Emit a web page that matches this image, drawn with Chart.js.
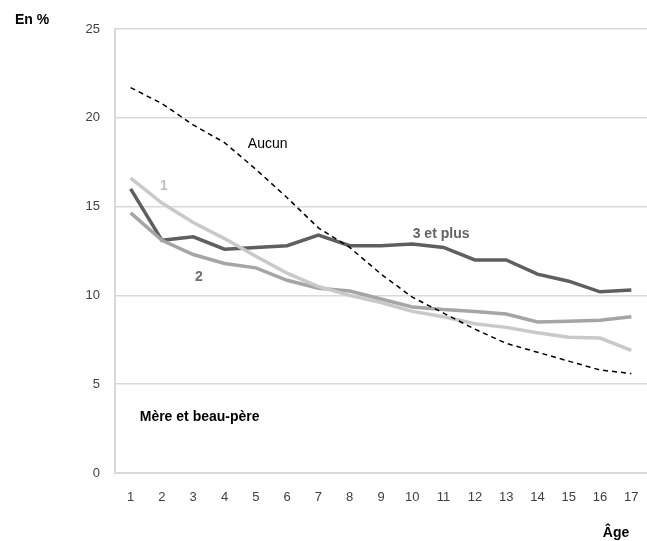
<!DOCTYPE html>
<html>
<head>
<meta charset="utf-8">
<script src="https://cdn.jsdelivr.net/npm/chart.js@4"></script>
<style>
  html, body { margin: 0; padding: 0; background: #fff; }
  #chart { display: block; }
</style>
</head>
<body>
<canvas id="chart" width="647" height="541"></canvas>
<script>
// Age categories
const ages = ['1','2','3','4','5','6','7','8','9','10','11','12','13','14','15','16','17'];

// Share (%) by number of siblings
const aucun = [21.7, 20.8, 19.6, 18.6, 17.1, 15.5, 13.8, 12.7, 11.2, 9.9, 9.0, 8.1, 7.3, 6.8, 6.3, 5.8, 5.6];
const un = [16.6, 15.2, 14.1, 13.2, 12.2, 11.25, 10.5, 10.0, 9.6, 9.1, 8.8, 8.4, 8.2, 7.9, 7.65, 7.6, 6.9];
const deux = [14.65, 13.1, 12.3, 11.8, 11.55, 10.85, 10.4, 10.25, 9.8, 9.35, 9.2, 9.1, 8.95, 8.5, 8.55, 8.6, 8.8];
const troisPlus = [16.0, 13.1, 13.3, 12.6, 12.7, 12.8, 13.4, 12.8, 12.8, 12.9, 12.7, 12.0, 12.0, 11.2, 10.8, 10.2, 10.3];

const yTicks = [0, 5, 10, 15, 20, 25];

const FONT = "'Liberation Sans', Arial, sans-serif";

// text labels drawn inside the plot (x = category index, y = value)
const seriesLabels = [
    { text: 'Aucun', x: 4.38, y: 18.5, color: '#000000', bold: false },
    { text: '1', x: 1.06, y: 16.15, color: '#bfbfbf', bold: true },
    { text: '2', x: 2.18, y: 11.0, color: '#6f6f6f', bold: true },
    { text: '3 et plus', x: 9.92, y: 13.45, color: '#636363', bold: true },
];

const labelsPlugin = {
    id: 'labelsPlugin',
    afterDraw(chart) {
        const ctx = chart.ctx;
        const xs = chart.scales.x;
        const ys = chart.scales.y;
        ctx.save();
        ctx.textBaseline = 'middle';
        for (const l of seriesLabels) {
            ctx.font = (l.bold ? 'bold ' : '') + '14px ' + FONT;
            ctx.fillStyle = l.color;
            ctx.textAlign = 'center';
            ctx.fillText(l.text, xs.getPixelForValue(l.x), ys.getPixelForValue(l.y));
        }
        ctx.font = 'bold 14px ' + FONT;
        ctx.fillStyle = '#000';
        ctx.textAlign = 'left';
        ctx.fillText('Mère et beau-père', xs.getPixelForValue(0.29), ys.getPixelForValue(3.15));
        ctx.fillText('En %', 15, 20);
        ctx.textAlign = 'center';
        ctx.fillText('Âge', 616, 533);
        ctx.restore();
    }
};

const ctx = document.getElementById('chart').getContext('2d');

new Chart(ctx, {
    type: 'line',
    data: {
        labels: ages,
        datasets: [
            {
                label: 'Aucun',
                data: aucun,
                borderColor: '#000000',
                borderWidth: 1.5,
                borderDash: [5, 4],
                pointRadius: 0,
                tension: 0
            },
            {
                label: '1',
                data: un,
                borderColor: '#c9c9c9',
                borderWidth: 3.5,
                pointRadius: 0,
                tension: 0
            },
            {
                label: '2',
                data: deux,
                borderColor: '#a5a5a5',
                borderWidth: 3.5,
                pointRadius: 0,
                tension: 0
            },
            {
                label: '3 et plus',
                data: troisPlus,
                borderColor: '#5f5f5f',
                borderWidth: 3.5,
                pointRadius: 0,
                tension: 0
            }
        ]
    },
    options: {
        responsive: false,
        animation: false,
        devicePixelRatio: 1,
        layout: { padding: { top: 29, right: 0, bottom: 0, left: 0 } },
        plugins: {
            legend: { display: false },
            tooltip: { enabled: false }
        },
        scales: {
            x: {
                offset: true,
                grid: { display: false, drawTicks: false },
                border: { display: true, color: '#d9d9d9', width: 2 },
                ticks: { color: '#404040', font: { family: FONT, size: 13 }, padding: 17, maxRotation: 0, autoSkip: false },
                afterFit(scale) {
                    scale.height = 68;
                    scale.paddingLeft = 0;
                    scale.paddingRight = 0;
                }
            },
            y: {
                min: 0,
                max: 25,
                afterBuildTicks(scale) { scale.ticks = yTicks.map(v => ({ value: v })); },
                grid: { color: '#d9d9d9', lineWidth: 1.5, drawTicks: false },
                border: { display: true, color: '#d9d9d9', width: 2 },
                ticks: { color: '#404040', font: { family: FONT, size: 13 }, padding: 15 },
                afterFit(scale) {
                    scale.width = 115;
                    scale.paddingTop = 0;
                    scale.paddingBottom = 0;
                }
            }
        }
    },
    plugins: [labelsPlugin]
});
</script>
</body>
</html>
